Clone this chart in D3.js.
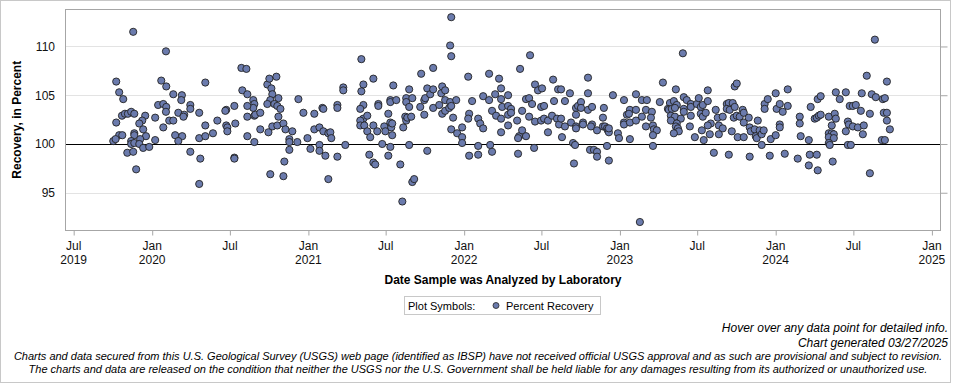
<!DOCTYPE html>
<html>
<head>
<meta charset="utf-8">
<style>
  body { margin: 0; background: #fff; }
  svg { display: block; font-family: Arial, "Liberation Sans", sans-serif; }
</style>
</head>
<body>
<svg width="960" height="384"></svg>
<script src="https://d3js.org/d3.v7.min.js"></script>
<script>
// date each sample was analyzed, as a decimal year
let sampleYear = [
  2019.878, 2020.088, 2019.769, 2020.058, 2020.090, 2019.788, 2019.814, 2020.135, 2020.190, 2020.186,
  2020.340, 2020.038, 2020.071, 2020.090, 2020.088, 2020.244, 2020.244, 2019.806, 2019.825, 2019.844,
  2019.865, 2019.885, 2019.955, 2019.936, 2019.917, 2020.019, 2020.109, 2020.135, 2020.167, 2020.205,
  2020.200, 2020.301, 2020.340, 2019.769, 2020.071, 2019.942, 2019.885, 2019.885, 2019.960, 2019.788,
  2019.808, 2019.750, 2019.765, 2019.865, 2019.865, 2019.885, 2019.923, 2019.917, 2019.942, 2019.981,
  2020.019, 2020.147, 2020.192, 2020.167, 2019.840, 2019.878, 2019.897, 2020.244, 2020.308, 2020.301,
  2020.340, 2020.301, 2020.389,
  2020.417, 2020.474, 2020.468, 2020.526, 2020.474, 2020.481, 2020.481, 2020.532, 2020.526, 2020.526,
  2020.571, 2020.603, 2020.577, 2020.609, 2020.647, 2020.654, 2020.647, 2020.609, 2020.609, 2020.654,
  2020.660, 2020.692, 2020.609, 2020.654, 2020.692, 2020.737, 2020.750, 2020.795, 2020.763, 2020.769,
  2020.756, 2020.808, 2020.737, 2020.782, 2020.801, 2020.821, 2020.808, 2020.769, 2020.801, 2020.840,
  2020.744, 2020.853, 2020.897, 2020.878, 2020.878, 2020.878, 2020.929, 2020.936, 2020.968, 2020.846,
  2020.756, 2020.840, 2020.994, 2021.013, 2021.038, 2021.038, 2021.071, 2021.096, 2021.090, 2021.096,
  2021.071, 2021.071, 2021.109, 2021.128, 2021.141, 2021.147, 2021.128, 2021.186, 2021.186, 2021.186,
  2021.224, 2021.224, 2021.237,
  2021.917, 2021.910, 2021.917, 2021.340, 2021.353, 2021.340, 2021.417, 2021.353, 2021.333, 2021.353,
  2021.333, 2021.378, 2021.333, 2021.359, 2021.378, 2021.397, 2021.417, 2021.442, 2021.449, 2021.449,
  2021.474, 2021.391, 2021.417, 2021.429, 2021.487, 2021.494, 2021.513, 2021.526, 2021.526, 2021.526,
  2021.532, 2021.538, 2021.538, 2021.526, 2021.513, 2021.545, 2021.564, 2021.590, 2021.609, 2021.622,
  2021.628, 2021.635, 2021.628, 2021.628, 2021.647, 2021.647, 2021.660, 2021.667, 2021.647, 2021.667,
  2021.679, 2021.603, 2021.718, 2021.724, 2021.744, 2021.744, 2021.750, 2021.763, 2021.782, 2021.801,
  2021.801, 2021.801, 2021.840, 2021.859, 2021.853, 2021.878, 2021.878, 2021.859, 2021.878, 2021.904,
  2021.910, 2021.917, 2021.929, 2021.949, 2021.917, 2021.955, 2021.763, 2021.987, 2021.987, 2021.987,
  2022.026, 2022.051, 2022.032, 2022.026, 2022.032, 2022.090, 2022.103, 2022.122, 2022.090, 2022.090,
  2022.122, 2022.160, 2022.160, 2022.179, 2022.199, 2022.205, 2022.224, 2022.237, 2022.237, 2022.244,
  2022.237, 2022.237, 2022.167, 2022.179,
  2022.423, 2022.359, 2022.282, 2022.282, 2022.282, 2022.301, 2022.301, 2022.282, 2022.340, 2022.372,
  2022.353, 2022.346, 2022.372, 2022.397, 2022.346, 2022.397, 2022.417, 2022.436, 2022.455, 2022.474,
  2022.500, 2022.417, 2022.455, 2022.494, 2022.513, 2022.494, 2022.513, 2022.538, 2022.538, 2022.564,
  2022.571, 2022.577, 2022.449, 2022.603, 2022.622, 2022.596, 2022.609, 2022.622, 2022.628, 2022.647,
  2022.647, 2022.679, 2022.686, 2022.699, 2022.712, 2022.705, 2022.718, 2022.731, 2022.750, 2022.750,
  2022.718, 2022.718, 2022.718, 2022.763, 2022.763, 2022.795, 2022.795, 2022.795, 2022.821, 2022.821,
  2022.814, 2022.853, 2022.808, 2022.833, 2022.853, 2022.853, 2022.897, 2022.891, 2022.891, 2022.904,
  2022.917, 2022.923, 2022.929, 2022.929, 2022.917, 2022.929, 2022.955, 2022.987, 2022.994, 2023.026,
  2023.026, 2023.026, 2023.045, 2023.064, 2023.058, 2023.064, 2023.064, 2023.103, 2023.103, 2023.103,
  2023.141, 2023.141, 2023.173, 2023.167, 2023.167, 2023.128,
  2023.404, 2023.276, 2023.359, 2023.564, 2023.737, 2023.750, 2024.000, 2024.077, 2023.256, 2023.321,
  2023.346, 2023.365, 2023.410, 2023.429, 2023.455, 2023.455, 2023.494, 2023.506, 2023.519, 2023.532,
  2023.564, 2023.308, 2023.314, 2023.333, 2023.353, 2023.410, 2023.410, 2023.455, 2023.519, 2023.532,
  2023.551, 2023.205, 2023.199, 2023.212, 2023.218, 2023.237, 2023.212, 2023.212, 2023.327, 2023.353,
  2023.327, 2023.391, 2023.365, 2023.359, 2023.372, 2023.378, 2023.346, 2023.449, 2023.481, 2023.526,
  2023.538, 2023.577, 2023.583, 2023.564, 2023.615, 2023.628, 2023.660, 2023.635, 2023.660, 2023.635,
  2023.686, 2023.699, 2023.724, 2023.686, 2023.705, 2023.737, 2023.731, 2023.750, 2023.769, 2023.788,
  2023.795, 2023.795, 2023.827, 2023.756, 2023.795, 2023.718, 2023.833, 2023.840, 2023.865, 2023.885,
  2023.872, 2023.878, 2023.897, 2023.910, 2023.923, 2023.910, 2023.929, 2023.929, 2023.949, 2024.006,
  2024.026, 2024.045, 2024.026, 2024.026, 2024.077, 2023.968, 2024.000, 2023.603, 2023.699, 2023.833,
  2023.962, 2024.058,
  2024.635, 2024.583, 2024.712, 2024.385, 2024.449, 2024.551, 2024.615, 2024.641, 2024.686, 2024.699,
  2024.269, 2024.288, 2024.410, 2024.224, 2024.474, 2024.494, 2024.513, 2024.545, 2024.603, 2024.154,
  2024.154, 2024.250, 2024.263, 2024.276, 2024.288, 2024.340, 2024.378, 2024.385, 2024.359, 2024.462,
  2024.468, 2024.494, 2024.526, 2024.564, 2024.449, 2024.558, 2024.692, 2024.712, 2024.712, 2024.731,
  2024.160, 2024.212, 2024.340, 2024.359, 2024.372, 2024.340, 2024.372, 2024.340, 2024.346, 2024.462,
  2024.481, 2024.679, 2024.699, 2024.141, 2024.218, 2024.263, 2024.212, 2024.269, 2024.365, 2024.603
];

// percent recovery, same order as sampleYear
let recovery = [
  111.5, 109.5, 106.4, 106.5, 105.9, 105.3, 104.6, 105.1, 105.0, 104.5,
  106.3, 104.0, 104.1, 103.8, 103.3, 104.0, 103.6, 102.9, 103.1, 103.1,
  103.3, 103.1, 102.9, 102.4, 102.1, 102.7, 102.4, 102.4, 103.2, 103.0,
  102.8, 103.2, 101.9, 102.2, 101.7, 101.5, 101.1, 100.9, 100.8, 100.9,
  100.9, 100.3, 100.5, 100.3, 100.0, 100.1, 100.5, 100.0, 99.6, 99.7,
  100.4, 100.9, 100.8, 100.3, 99.1, 99.2, 97.4, 99.2, 98.5, 100.6,
  100.8, 95.9, 101.1,
  102.4, 103.5, 103.4, 103.9, 101.9, 101.7, 101.3, 102.1, 98.6, 98.5,
  107.8, 107.7, 105.5, 105.1, 104.5, 104.1, 103.7, 103.9, 102.8, 102.9,
  103.0, 103.2, 100.8, 100.2, 101.5, 106.1, 106.7, 106.9, 105.7, 105.1,
  104.5, 104.7, 104.1, 104.1, 103.9, 103.6, 102.8, 101.8, 101.9, 102.1,
  101.2, 101.5, 101.3, 100.5, 100.2, 99.4, 100.2, 104.6, 103.2, 98.2,
  96.9, 96.7, 100.6, 99.5, 103.1, 101.5, 101.7, 101.3, 103.7, 103.6,
  99.9, 99.3, 98.8, 101.1, 101.2, 100.6, 96.4, 104.0, 103.7, 98.7,
  105.8, 105.5, 99.9,
  113.0, 110.1, 109.0, 108.7, 106.1, 105.4, 106.7, 104.0, 103.6, 102.6,
  102.4, 102.9, 101.9, 101.9, 101.3, 100.7, 101.9, 101.3, 104.1, 103.9,
  100.0, 98.9, 98.1, 97.9, 101.8, 101.3, 103.1, 104.5, 104.3, 102.2,
  101.7, 102.1, 100.9, 99.7, 98.8, 106.0, 104.5, 97.9, 101.7, 102.8,
  102.4, 102.7, 104.7, 104.3, 105.6, 103.8, 102.8, 104.7, 99.9, 96.1,
  96.4, 94.1, 103.8, 107.2, 103.0, 104.5, 104.7, 105.7, 105.1, 107.8,
  105.6, 103.7, 104.0, 105.9, 105.2, 105.5, 104.5, 103.1, 103.4, 103.7,
  104.3, 103.9, 102.7, 104.5, 101.5, 101.1, 99.3, 101.7, 100.7, 100.1,
  106.9, 104.4, 103.1, 102.6, 98.8, 102.6, 102.1, 101.6, 99.8, 98.9,
  104.9, 107.2, 104.5, 103.4, 105.1, 102.9, 106.7, 105.7, 104.6, 103.8,
  102.6, 101.2, 99.9, 99.2,
  109.1, 107.7, 105.0, 103.9, 103.0, 103.6, 103.2, 101.9, 102.4, 103.4,
  100.8, 100.6, 101.4, 100.8, 99.0, 104.6, 104.7, 104.1, 106.1, 105.5,
  105.7, 102.8, 102.3, 103.8, 103.9, 102.4, 102.6, 102.4, 101.2, 102.9,
  106.6, 104.4, 99.6, 105.6, 105.6, 102.6, 102.0, 102.6, 100.7, 104.4,
  101.8, 105.2, 102.2, 100.1, 99.9, 98.0, 103.7, 103.9, 104.3, 103.7,
  103.0, 101.8, 101.6, 102.2, 102.0, 106.8, 105.2, 103.5, 103.8, 102.0,
  101.8, 101.4, 99.4, 99.4, 99.2, 98.7, 103.7, 102.7, 101.8, 101.8,
  101.6, 101.4, 101.2, 101.6, 99.8, 98.3, 105.0, 101.1, 100.6, 104.5,
  102.2, 102.0, 103.0, 103.5, 103.1, 102.2, 100.5, 105.1, 103.5, 102.4,
  104.5, 102.8, 104.5, 103.5, 101.8, 92.0,
  109.3, 106.3, 105.6, 105.5, 105.9, 106.2, 105.2, 105.6, 104.3, 104.2,
  104.4, 104.0, 104.8, 104.5, 104.1, 103.8, 104.1, 104.7, 103.8, 104.0,
  104.4, 103.6, 103.5, 103.6, 103.7, 103.6, 103.3, 102.9, 103.1, 102.8,
  103.2, 103.3, 102.7, 101.9, 101.5, 101.4, 100.9, 99.8, 102.9, 102.8,
  102.4, 102.6, 102.1, 101.8, 101.6, 101.3, 101.1, 101.8, 100.7, 101.4,
  100.4, 101.0, 102.1, 101.9, 103.5, 102.7, 102.8, 101.9, 101.6, 101.0,
  104.1, 104.2, 104.2, 103.6, 103.5, 103.8, 102.7, 102.9, 102.8, 103.5,
  103.2, 102.2, 102.7, 100.7, 100.7, 101.3, 101.7, 101.3, 101.5, 102.4,
  100.8, 100.6, 101.4, 101.0, 101.4, 99.9, 104.1, 103.6, 104.6, 103.6,
  104.1, 103.3, 102.0, 101.7, 103.9, 100.5, 100.9, 99.1, 98.9, 98.7,
  98.8, 99.0,
  110.7, 107.0, 106.4, 105.3, 105.3, 105.2, 105.1, 104.8, 104.6, 104.7,
  104.6, 104.9, 104.6, 103.8, 103.9, 103.9, 104.0, 103.4, 103.1, 102.8,
  102.1, 102.6, 102.7, 102.9, 103.0, 102.8, 103.1, 102.6, 101.9, 102.3,
  102.0, 101.8, 101.7, 101.9, 101.3, 101.0, 103.2, 103.2, 102.4, 101.5,
  100.8, 100.4, 101.1, 101.1, 101.0, 100.7, 100.6, 100.1, 99.9, 99.9,
  99.9, 100.4, 100.4, 98.5, 98.9, 98.9, 97.8, 97.3, 98.2, 97.0
];

let yTicks = [95, 100, 105, 110];
let referenceValue = 100;
let xTickStart = "2019-07-01";
let xTickEnd = "2025-01-01";
let legendLabel = "Percent Recovery";
let footerNotes = [
  "Hover over any data point for detailed info.",
  "Chart generated 03/27/2025"
];
let disclaimer = [
  "Charts and data secured from this U.S. Geological Survey (USGS) web page (identified as IBSP) have not received official USGS approval and as such are provisional and subject to revision.",
  "The charts and data are released on the condition that neither the USGS nor the U.S. Government shall be held liable for any damages resulting from its authorized or unauthorized use."
];

let pointFill = "#6b7bad";
let frameGray = "#a6a6a6";

function toDate(yr) {
  let y0 = Math.floor(yr);
  let a = Date.UTC(y0, 0, 1), b = Date.UTC(y0 + 1, 0, 1);
  return new Date(a + (yr - y0) * (b - a));
}

let data = sampleYear.map((d, i) => ({ date: toDate(d), value: recovery[i] }));

let svg = d3.select("svg");
let plot = { left: 66, right: 940, top: 9.5, bottom: 230 };

let x = d3.scaleUtc()
  .domain([Date.UTC(2019, 5, 13), Date.UTC(2025, 0, 20)])
  .range([plot.left, plot.right]);

let y = d3.scaleLinear()
  .domain([91.18, 113.79])
  .range([plot.bottom, plot.top]);

// outer border
svg.append("rect")
  .attr("x", 0.5).attr("y", 0.5)
  .attr("width", 950).attr("height", 382)
  .style("fill", "none").style("stroke", "#c8c8c8");

// gridlines
svg.selectAll(".grid")
  .data(yTicks.filter(d => d != referenceValue))
  .join("line")
  .attr("x1", plot.left).attr("x2", plot.right)
  .attr("y1", d => Math.round(y(d)) + 0.5).attr("y2", d => Math.round(y(d)) + 0.5)
  .style("stroke", "#e3e3e3");

svg.append("line")
  .attr("x1", plot.left).attr("x2", plot.right)
  .attr("y1", Math.round(y(referenceValue)) + 0.5).attr("y2", Math.round(y(referenceValue)) + 0.5)
  .style("stroke", "#000");

// left axis: labels only
let yAxis = svg.append("g")
  .attr("transform", `translate(${plot.left},0)`)
  .call(d3.axisLeft(y).tickValues(yTicks).tickSize(0).tickPadding(11));
yAxis.select(".domain").remove();
yAxis.selectAll("text").style("font-size", "12px").style("fill", "#111")
  .style("font-family", "Arial, 'Liberation Sans', sans-serif");

// right axis: ticks only
let yAxisR = svg.append("g")
  .attr("transform", `translate(${plot.right + 0.5},0)`)
  .call(d3.axisRight(y).tickValues(yTicks).tickSize(7).tickFormat(""));
yAxisR.select(".domain").remove();
yAxisR.selectAll("line").style("stroke", frameGray);

// bottom axis
let xTicks = d3.utcMonth.every(6).range(new Date(xTickStart), d3.utcDay.offset(new Date(xTickEnd), 1));
let xAxis = svg.append("g")
  .attr("transform", `translate(0,${plot.bottom + 0.5})`)
  .call(d3.axisBottom(x).tickValues(xTicks).tickSize(5).tickFormat(""));
xAxis.select(".domain").remove();
xAxis.selectAll("line").style("stroke", frameGray);

let xLabels = svg.append("g");
xTicks.forEach((t, i) => {
  let txt = xLabels.append("text")
    .attr("x", x(t))
    .attr("y", 250)
    .attr("text-anchor", "middle")
    .style("font-size", "12px")
    .style("fill", "#111");
  txt.append("tspan").attr("x", x(t)).text(d3.utcFormat("%b")(t));
  if (i == 0 || t.getUTCMonth() == 0) {
    txt.append("tspan").attr("x", x(t)).attr("dy", 14).text(d3.utcFormat("%Y")(t));
  }
});

// plot frame
svg.append("rect")
  .attr("x", plot.left - 0.5).attr("y", plot.top)
  .attr("width", plot.right - plot.left + 1).attr("height", plot.bottom - plot.top + 0.5)
  .style("fill", "none").style("stroke", frameGray);

// points
svg.selectAll(".pt")
  .data(data)
  .join("circle")
  .attr("class", "pt")
  .attr("cx", d => x(d.date))
  .attr("cy", d => y(d.value))
  .attr("r", 3.6)
  .style("fill", pointFill)
  .style("stroke", "#222")
  .style("stroke-width", 0.9);

// axis titles
svg.append("text")
  .attr("transform", `translate(21,${(plot.top + plot.bottom) / 2}) rotate(-90)`)
  .attr("text-anchor", "middle")
  .style("font-size", "12px").style("font-weight", "bold")
  .text("Recovery, in Percent");

svg.append("text")
  .attr("x", (plot.left + plot.right) / 2)
  .attr("y", 284)
  .attr("text-anchor", "middle")
  .style("font-size", "12px").style("font-weight", "bold")
  .text("Date Sample was Analyzed by Laboratory");

// legend
let legend = svg.append("g");
legend.append("rect")
  .attr("x", 404.5).attr("y", 296.5).attr("width", 196).attr("height", 18)
  .style("fill", "#fff").style("stroke", "#c8c8c8");
legend.append("text").attr("x", 408).attr("y", 309.5)
  .style("font-size", "11px").text("Plot Symbols:");
legend.append("circle").attr("cx", 496).attr("cy", 305.5).attr("r", 3)
  .style("fill", pointFill).style("stroke", "#222").style("stroke-width", 0.8);
legend.append("text").attr("x", 506).attr("y", 309.5)
  .style("font-size", "11px").text(legendLabel);

// footer
svg.selectAll(".note")
  .data(footerNotes)
  .join("text")
  .attr("x", 948)
  .attr("y", (d, i) => 332 + i * 15)
  .attr("text-anchor", "end")
  .style("font-size", "12px").style("font-style", "italic")
  .text(d => d);

svg.selectAll(".disc")
  .data(disclaimer)
  .join("text")
  .attr("x", 478)
  .attr("y", (d, i) => 360 + i * 13)
  .attr("text-anchor", "middle")
  .style("font-size", "11px").style("font-style", "italic")
  .text(d => d);
</script>
</body>
</html>
